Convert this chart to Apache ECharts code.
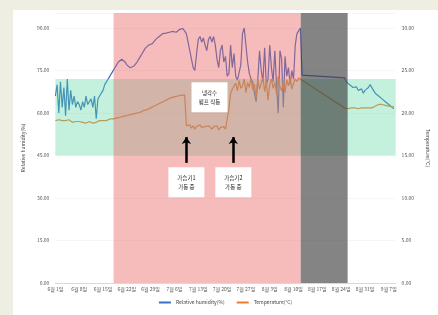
<!DOCTYPE html>
<html><head><meta charset="utf-8">
<script src="https://cdn.jsdelivr.net/npm/echarts@6/dist/echarts.min.js"></script>
<style>
html,body{margin:0;padding:0;background:#efeee2;width:438px;height:315px;overflow:hidden}
#c{position:absolute;left:13px;top:10px;width:425px;height:305px;background:#ffffff}
</style></head>
<body><div id="c"></div>
<script>
// x labels: one every 7 days (day index 0,7,...,98)
const tickLabels = ["6월 1일","6월 8일","6월 15일","6월 22일","6월 29일","7월 6일","7월 13일","7월 20일","7월 27일","8월 3일","8월 10일","8월 17일","8월 24일","8월 31일","9월 7일"];
const stepDays = 0.5;
// Relative humidity (%) every half day; null = no data (gap)
const humidity = [
66,70, 60,71, 62,69, 59,72, 61,68, 63,66, 62,64, 63,61, 64,62, 66,63,
64,65, 62,66, 58,65, 66,67, 68,70, 71,72, 73,74, 74.5,76, 77,78, 78.5,79,
78.5,78, 77,76.5, 76,75.5, 76.5,77, 78,79, 80,81, 82,83, 83.5,84, 84,84.5, 85,86,
86.5,87, 87.5,88, 87.8,88.2, 88,88.5, 88.3,88.8, 89,88.5, 89,89.5, 90,89.8, 89.5,88, 85,82,
79,76, 75,81, 86,87, 85,86.5, 84,82, 86,87, 85,87, 84,79, 76,82, 84,78,
80,73, 74,84, 76,81, 73,71.6, 72,77, 88,90, 84,78, 74,72, 71,67, 64,72,
82,75, 71,83, 70,72, 84,76, 71,82, 70,60, 82,79, 62,80, 73,76, 70,75,
72,84, 88,89, 90,73.4,
null,null,null,null,null,null,null,null,null,null,null,null,
null,null,null,null,null,null,null,null,null,null,null,null,
72.4,71, 70.5,70, 69.5,69, 68.5,69.2, 68,67.5, 68.5,67, 68,67.5, 69,70, 70.6,68, 67,66.5,
66,65.5, 65,64.5, 64,63.5, 63,62.5, 62,61.5
];
// Temperature (°C) every half day
const temperature = [
19.1,19.0,19.2,19.0,19.1,18.9,19.1,19.0,19.2,19.0,18.9,19.1,19.0,18.9,19.0,18.8,18.9,19.0,18.8,18.9,
19.0,18.9,18.8,19.0,18.9,19.0,19.1,19.0,19.1,19.2,19.1,19.2,19.3,19.2,
19.3,19.4, 19.4,19.5, 19.5,19.5, 19.6,19.6, 19.7,19.7, 19.8,19.8, 19.9,19.9, 20.0,20.1, 20.1,20.2,
20.3,20.4, 20.4,20.5, 20.6,20.7, 20.8,20.9, 21.0,21.1, 21.2,21.3, 21.4,21.5, 21.6,21.7, 21.8,21.8,
21.9,22.0, 22.0,22.1, 22.1,22.2,
22.1,18.5,
18.3,18.6,18.2,18.5,18.1,18.4,18.2,18.6,18.3,18.1,18.4,18.2,18.5,18.3,18.1,18.4,18.2,18.5,18.0,18.3,18.2,18.4,18.1,18.3,
20.5,22.3, 22.8,23.0,
23.5,22.6,23.8,22.9,23.2,24.0,22.4,23.6,23.0,24.1,22.7,23.4,21.8,23.9,22.8,23.5,24.2,22.5,23.7,21.5,
23.3,24.0,22.9,23.6,22.2,24.3,23.1,22.6,23.8,22.4,23.9,23.2,24.1,22.8,23.5,24.0,23.7,24.1,
24.1,
null,null,null,null,null,null,null,null,null,null,null,null,null,
null,null,null,null,null,null,null,null,null,null,null,null,
20.6,20.6,20.5,20.6,20.6,20.5,20.6,20.6,20.5,20.6,20.6,20.5,20.6,20.6,20.6,20.5,20.6,20.7,
20.8,20.9,21.0,21.1,21.0,21.1,20.9,21.0,20.8,20.9,20.7,20.8
];
// comfort band of humidity (%)
const comfortBand = [45, 72];
// period spans (day index)
const activePeriod = [17.1, 72.1];
const offPeriod = [72.1, 85.9];
// annotations: [day, humidity value]
const noteTop = {text: "냉각수\n펌프 작동", at: [45.3, 65.6]};
const notesBottom = [
  {text: "가습기1\n가동 중", at: [38.5, 35.6]},
  {text: "가습기2\n가동 중", at: [52.3, 35.6]}
];
const arrowFrom = 42.4, arrowTo = 51.5;

const toPairs = arr => arr.map((v, i) => [i * stepDays, v]);
const FONT = 'Noto Sans CJK KR';
const chart = echarts.init(document.getElementById('c'), null, {renderer: 'canvas'});
chart.setOption({
  animation: false,
  textStyle: {fontFamily: FONT},
  grid: {left: 31, right: 25, top: 3, bottom: 32},
  legend: {
    bottom: 5, left: 'center', itemWidth: 12, itemHeight: 2, itemGap: 12,
    icon: 'rect',
    textStyle: {fontSize: 5, color: '#444', fontFamily: FONT},
    data: ['Relative humidity(%)', 'Temperature(°C)']
  },
  xAxis: {
    type: 'value', min: 0, max: 100, interval: 7,
    axisLine: {show: true, lineStyle: {color: '#d9d9d9'}},
    axisTick: {show: false},
    splitLine: {show: false},
    axisLabel: {fontSize: 5, color: '#555', margin: 4, showMaxLabel: false,
      formatter: v => (v % 7 === 0 ? (tickLabels[v / 7] || '') : '')}
  },
  yAxis: [{
    type: 'value', min: 0, max: 95.3, interval: 15,
    name: 'Relative humidity(%)', nameLocation: 'middle', nameGap: 27,
    nameTextStyle: {fontSize: 5, color: '#444'},
    axisLine: {show: false}, axisTick: {show: false},
    splitLine: {lineStyle: {color: '#f0f0f0', width: 0.6}},
    axisLabel: {fontSize: 5, color: '#555', margin: 6, showMaxLabel: false,
      formatter: v => (v % 15 === 0 ? v.toFixed(2) : '')}
  }, {
    type: 'value', min: 0, max: 31.76, interval: 5,
    name: 'Temperature(°C)', nameLocation: 'middle', nameGap: 21, nameRotate: -90,
    nameTextStyle: {fontSize: 5, color: '#444'},
    axisLine: {show: false}, axisTick: {show: false},
    splitLine: {show: false},
    axisLabel: {fontSize: 5, color: '#555', margin: 6, showMaxLabel: false,
      formatter: v => (v % 5 === 0 ? v.toFixed(2) : '')}
  }],
  series: [{
    name: 'Relative humidity(%)', type: 'line', yAxisIndex: 0, z: 2,
    data: toPairs(humidity), showSymbol: false, connectNulls: true,
    lineStyle: {color: '#3a6fc2', width: 1.2}, itemStyle: {color: '#3a6fc2'}
  }, {
    name: 'Temperature(°C)', type: 'line', yAxisIndex: 1, z: 2,
    data: toPairs(temperature), showSymbol: false, connectNulls: true,
    lineStyle: {color: '#ec7c30', width: 1.2}, itemStyle: {color: '#ec7c30'}
  }, {
    name: 'band', type: 'line', yAxisIndex: 0, z: 3, data: [],
    markArea: {silent: true, z: 5, itemStyle: {color: 'rgba(90,215,160,0.36)'},
      data: [[{xAxis: 0, yAxis: comfortBand[0]}, {xAxis: 100, yAxis: comfortBand[1]}]]}
  }, {
    name: 'periods', type: 'line', yAxisIndex: 0, z: 4, data: [],
    markArea: {silent: true, z: 6,
      data: [
        [{xAxis: activePeriod[0], itemStyle: {color: 'rgba(232,92,92,0.41)'}}, {xAxis: activePeriod[1]}],
        [{xAxis: offPeriod[0], itemStyle: {color: 'rgba(60,60,60,0.63)'}}, {xAxis: offPeriod[1]}]
      ]}
  }, {
    name: 'notes', type: 'line', yAxisIndex: 0, z: 8, data: [],
    markLine: {silent: true, z: 9, symbol: ['none', 'arrow'], symbolSize: [7, 7],
      lineStyle: {color: '#000', width: 2.5, type: 'solid'}, label: {show: false},
      data: notesBottom.map(n => [{coord: [n.at[0], arrowFrom]}, {coord: [n.at[0], arrowTo]}])},
    markPoint: {silent: true, z: 9, symbol: 'rect', symbolSize: [36, 30],
      itemStyle: {color: '#ffffff'},
      label: {show: true, color: '#222', fontSize: 5.5, lineHeight: 9, fontFamily: FONT,
        formatter: p => p.data.txt},
      data: notesBottom.concat([noteTop]).map(n => ({coord: n.at, txt: n.text}))}
  }]
});
</script></body></html>
